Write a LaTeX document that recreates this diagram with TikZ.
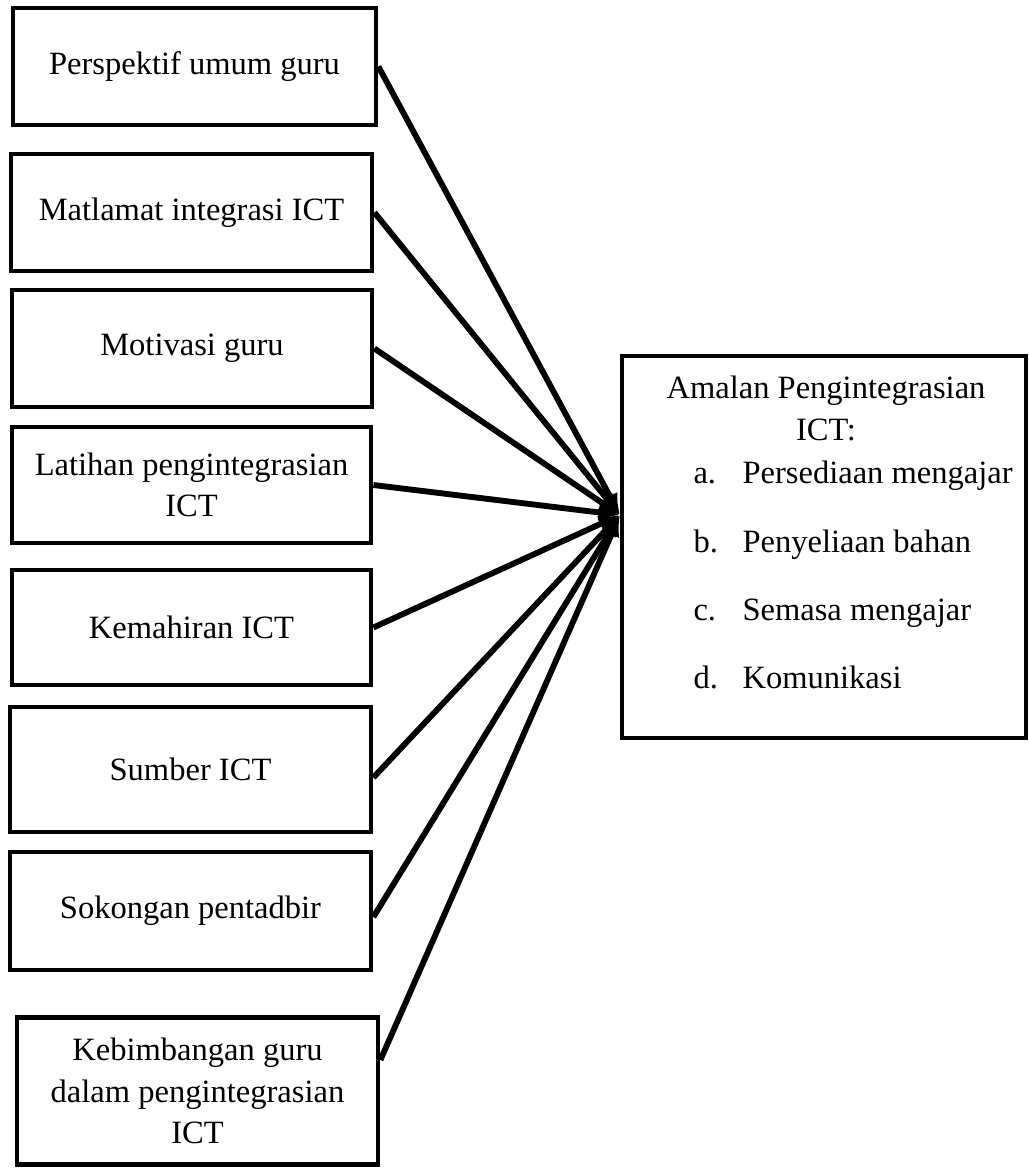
\documentclass[tikz,border=0pt]{standalone}
\usepackage{fontspec}
\setmainfont{Liberation Serif}
\usetikzlibrary{arrows.meta,calc}
\newlength\px
\setlength\px{0.375pt}
\begin{document}
\begin{tikzpicture}[x=0.375pt,y=-0.375pt,font=\fontsize{12.2}{15.6}\selectfont]
            \tikzstyle{factor} = [draw, line width=1.8pt, inner sep=0pt, align=center]
            \tikzstyle{result} = [draw, line width=1.8pt, inner sep=0pt]
            \tikzstyle{link} = [line width=2.2pt, -{Latex[length=8pt,width=6.5pt]}]
            \tikzstyle{item} = [anchor=base west, inner sep=0pt]

            \useasboundingbox (0,0) rectangle (1029,1169);

            % factors on the left
            \node [factor, minimum width=363\px, minimum height=117\px] (persp) at (194.5,66.5) {Perspektif umum guru};
            \node [factor, minimum width=361\px, minimum height=117\px] (matlamat) at (191.5,212.5) {Matlamat integrasi ICT};
            \node [factor, minimum width=360\px, minimum height=117\px] (motivasi) at (192,348.5) {Motivasi guru};
            \node [factor, minimum width=359\px, minimum height=116\px] (latihan) at (191.5,485) {Latihan pengintegrasian\\ICT};
            \node [factor, minimum width=359\px, minimum height=115\px] (kemahiran) at (191.5,627.5) {Kemahiran ICT};
            \node [factor, minimum width=361\px, minimum height=125\px] (sumber) at (190.5,769.5) {Sumber ICT};
            \node [factor, minimum width=361\px, minimum height=118\px] (sokongan) at (190.5,911) {Sokongan pentadbir};
            \node [factor, minimum width=361\px, minimum height=147\px] (kebimbangan) at (197.5,1091) {Kebimbangan guru\\dalam pengintegrasian\\ICT};

            % practice box on the right
            \node [result, minimum width=404\px, minimum height=382\px] (amalan) at (824,547) {};
            \node [anchor=base, inner sep=0pt] (title1) at (826,398) {Amalan Pengintegrasian};
            \node [anchor=base, inner sep=0pt] (title2) at (826,440) {ICT:};
            \node [item] (la) at (693,483) {a.};
            \node [item] (ta) at (742,483) {Persediaan mengajar};
            \node [item] (lb) at (693,552) {b.};
            \node [item] (tb) at (742,552) {Penyeliaan bahan};
            \node [item] (lc) at (693,620) {c.};
            \node [item] (tc) at (742,620) {Semasa mengajar};
            \node [item] (ld) at (693,688) {d.};
            \node [item] (td) at (742,688) {Komunikasi};

            \coordinate (hub) at (620,515);

            % connectors
            \draw [link] (persp.east) -- (hub);
            \draw [link] (matlamat.east) -- (hub);
            \draw [link] (motivasi.east) -- (hub);
            \draw [link] (latihan.east) -- (hub);
            \draw [link] (kemahiran.east) -- (hub);
            \draw [link] ($(sumber.east)+(0,8)$) -- (hub);
            \draw [link] ($(sokongan.east)+(0,6)$) -- (hub);
            \draw [link] ($(kebimbangan.east)+(0,-31)$) -- (hub);
        \end{tikzpicture}
\end{document}
